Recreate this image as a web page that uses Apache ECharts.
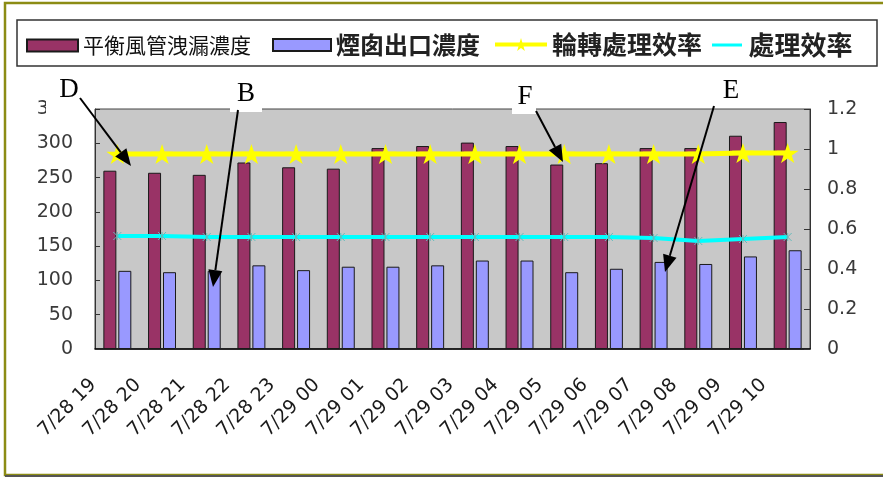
<!DOCTYPE html>
<html>
<head>
<meta charset="utf-8">
<script src="https://cdn.jsdelivr.net/npm/echarts@6/dist/echarts.min.js"></script>
<style>
  html, body { margin: 0; padding: 0; background: #ffffff; }
  #chart { width: 883px; height: 480px; }
</style>
</head>
<body>
<div id="chart"></div>
<script>
// Hourly readings, 7/28 19:00 through 7/29 10:00
const categories = ['7/28 19', '7/28 20', '7/28 21', '7/28 22', '7/28 23', '7/29 00', '7/29 01', '7/29 02',
                    '7/29 03', '7/29 04', '7/29 05', '7/29 06', '7/29 07', '7/29 08', '7/29 09', '7/29 10'];

// Balance-duct leak concentration (left axis)
const leakConc = [260, 257, 254, 272, 265, 263, 293, 296, 301, 296, 269, 271, 293, 293, 311, 331];
// Stack outlet concentration (left axis)
const stackConc = [114, 112, 114, 122, 115, 120, 120, 122, 129, 129, 112, 117, 127, 124, 135, 144];
// Rotor treatment efficiency (right axis)
const rotorEff = [0.975, 0.975, 0.975, 0.975, 0.975, 0.975, 0.975, 0.975, 0.975, 0.975, 0.975, 0.975, 0.975, 0.975, 0.98, 0.98];
// Overall treatment efficiency (right axis)
const treatEff = [0.565, 0.565, 0.56, 0.56, 0.56, 0.56, 0.56, 0.56, 0.56, 0.56, 0.56, 0.56, 0.555, 0.54, 0.55, 0.56];

const leftTicks = { min: 0, max: 350, interval: 50 };
const rightTicks = { min: 0, max: 1.2, interval: 0.2 };

const seriesNames = ['平衡風管洩漏濃度', '煙囱出口濃度', '輪轉處理效率', '處理效率'];

const STAR = 'path://M50,0 L61,35 L98,35 L68,57 L79,91 L50,70 L21,91 L32,57 L2,35 L39,35 Z';
const CROSS = 'path://M0,0 L10,10 M10,0 L0,10 M5,0 L5,10';
const BAR_LINE = 'path://M0,0 L10,0 L10,1 L0,1 Z';

const cjk = '"Noto Sans CJK TC", sans-serif';
const legendText = { fontFamily: cjk, fontSize: 21, color: '#111' };
const boldText = size => ({ fontFamily: cjk, fontSize: size, fontWeight: 'bold', color: '#222' });
const axisFont = { fontFamily: '"DejaVu Sans", sans-serif', fontSize: 19, color: '#3a3a3a' };

// Annotation callouts: letter, white backing box, arrow tail, arrow tip
const callouts = [
  { text: 'D', box: [46, 72, 46, 47], label: [69, 90], from: [80, 98],  to: [131, 166] },
  { text: 'B', box: [230, 76, 32, 36], label: [246, 94], from: [238, 110], to: [213, 287] },
  { text: 'F', box: [512, 80, 24, 34], label: [525, 97], from: [536, 111], to: [563, 162] },
  { text: 'E', box: [713, 74, 36, 34], label: [731, 91], from: [714, 106], to: [665, 272] }
];

function arrow(c) {
  const dx = c.to[0] - c.from[0], dy = c.to[1] - c.from[1];
  const len = Math.sqrt(dx * dx + dy * dy);
  const ux = dx / len, uy = dy / len;
  const headL = 17, headW = 7;
  const bx = c.to[0] - ux * headL, by = c.to[1] - uy * headL;
  return [
    { type: 'line', z: 101, shape: { x1: c.from[0], y1: c.from[1], x2: bx, y2: by },
      style: { stroke: '#000', lineWidth: 2 } },
    { type: 'polygon', z: 101,
      shape: { points: [[c.to[0], c.to[1]], [bx - uy * headW, by + ux * headW], [bx + uy * headW, by - ux * headW]] },
      style: { fill: '#000' } }
  ];
}

const graphics = [
  // outer frame
  { type: 'rect', z: -1, silent: true, shape: { x: 5, y: 3, width: 900, height: 472 },
    style: { fill: 'none', stroke: '#8c8c14', lineWidth: 2.5 } },
  { type: 'line', z: -1, silent: true, shape: { x1: 5, y1: 476, x2: 883, y2: 476 },
    style: { stroke: '#555', lineWidth: 2 } },
  // legend frame
  { type: 'rect', z: -1, silent: true, shape: { x: 17, y: 20, width: 860, height: 46 },
    style: { fill: '#fff', stroke: '#333', lineWidth: 1.5 } }
];
callouts.forEach(c => {
  graphics.push({ type: 'rect', z: 100, shape: { x: c.box[0], y: c.box[1], width: c.box[2], height: c.box[3] },
                  style: { fill: '#fff' } });
  graphics.push({ type: 'text', z: 102, x: c.label[0], y: c.label[1],
                  style: { text: c.text, fontFamily: '"Liberation Serif", serif', fontSize: 27,
                           fill: '#000', align: 'center', verticalAlign: 'middle' } });
  arrow(c).forEach(g => graphics.push(g));
});

const legendBase = { top: 33, itemHeight: 12, textStyle: legendText, itemGap: 4, padding: 0, selectedMode: false };

const chart = echarts.init(document.getElementById('chart'), null, { renderer: 'canvas' });
chart.setOption({
  animation: false,
  backgroundColor: '#fff',
  graphic: graphics,
  legend: [
    Object.assign({}, legendBase, { left: 26, top: 35, itemWidth: 51, data: [{ name: seriesNames[0], icon: 'rect' }] }),
    Object.assign({}, legendBase, { left: 272, itemWidth: 58, textStyle: boldText(24),
                                    data: [{ name: seriesNames[1], icon: 'rect' }] }),
    Object.assign({}, legendBase, { left: 493, top: 32, itemWidth: 52, itemHeight: 16, textStyle: boldText(25),
                                    lineStyle: { width: 4 }, data: [seriesNames[2]] }),
    Object.assign({}, legendBase, { left: 712, top: 32, itemWidth: 33, itemHeight: 3, textStyle: boldText(26),
                                    itemStyle: { color: '#00ffff', borderWidth: 0 },
                                    data: [{ name: seriesNames[3], icon: BAR_LINE }] })
  ],
  grid: { left: 95, right: 73, top: 109, bottom: 131, show: true, backgroundColor: '#c8c8c8',
          borderColor: '#444', borderWidth: 1 },
  xAxis: {
    type: 'category',
    data: categories,
    boundaryGap: true,
    axisLine: { lineStyle: { color: '#000', width: 1.5 } },
    axisTick: { inside: true, length: 7, lineStyle: { color: '#333' } },
    axisLabel: Object.assign({}, axisFont, { fontSize: 19, color: '#1a1a1a', rotate: 45, margin: 9,
                                             padding: [0, 34, 0, 0], interval: 0 })
  },
  yAxis: [
    {
      type: 'value', min: leftTicks.min, max: leftTicks.max, interval: leftTicks.interval,
      axisLine: { show: true, lineStyle: { color: '#333' } },
      axisTick: { show: true, inside: true, length: 5, lineStyle: { color: '#333' } },
      axisLabel: Object.assign({}, axisFont, { margin: 22 }),
      splitLine: { show: false }
    },
    {
      type: 'value', min: rightTicks.min, max: rightTicks.max, interval: rightTicks.interval,
      axisLine: { show: true, lineStyle: { color: '#333' } },
      axisTick: { show: true, inside: true, length: 6, lineStyle: { color: '#333' } },
      axisLabel: Object.assign({}, axisFont, { margin: 17 }),
      splitLine: { show: false }
    }
  ],
  series: [
    {
      name: seriesNames[0], type: 'bar', yAxisIndex: 0, data: leakConc,
      barWidth: 13, barGap: '15%',
      itemStyle: { color: '#993366', borderColor: '#1a1a1a', borderWidth: 1 }
    },
    {
      name: seriesNames[1], type: 'bar', yAxisIndex: 0, data: stackConc,
      barWidth: 13,
      itemStyle: { color: '#9999ff', borderColor: '#1a1a1a', borderWidth: 1 }
    },
    {
      name: seriesNames[2], type: 'line', yAxisIndex: 1, data: rotorEff,
      symbol: STAR, symbolSize: [22, 20], showAllSymbol: true,
      lineStyle: { color: '#ffff00', width: 5 },
      itemStyle: { color: '#ffff00', borderWidth: 0 }, z: 5
    },
    {
      name: seriesNames[3], type: 'line', yAxisIndex: 1, data: treatEff,
      symbol: CROSS, symbolSize: 8, showAllSymbol: true,
      lineStyle: { color: '#00ffff', width: 4 },
      itemStyle: { color: '#00ffff', borderColor: '#66bbbb', borderWidth: 1 }, z: 4
    }
  ]
});
</script>
</body>
</html>
